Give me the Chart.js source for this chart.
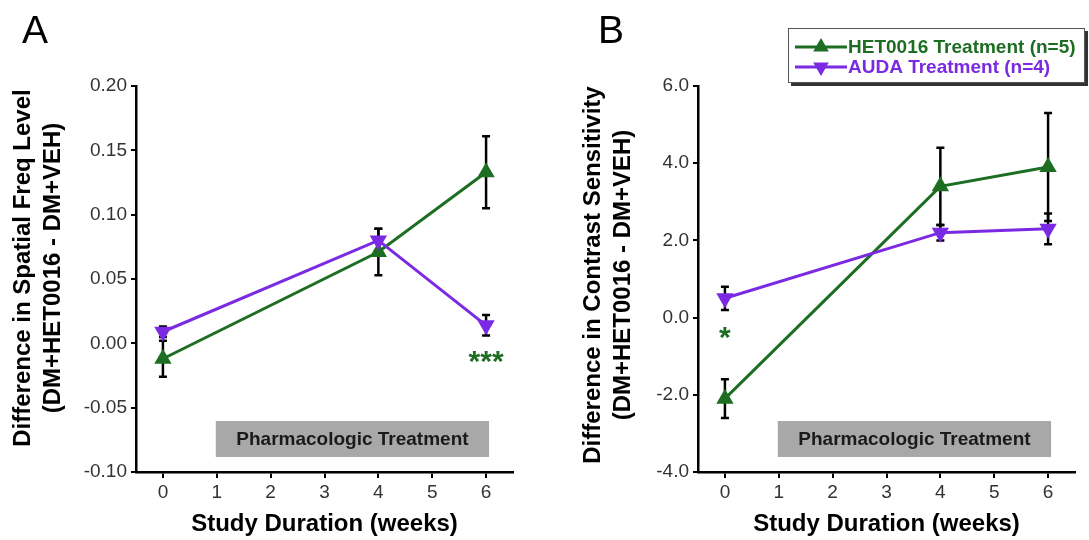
<!DOCTYPE html>
<html>
<head>
<meta charset="utf-8">
<script src="https://cdn.jsdelivr.net/npm/chart.js@4.4.0/dist/chart.umd.min.js"></script>
<style>
  body { margin: 0; background: #fff; }
  #wrap { position: relative; width: 1089px; height: 540px; }
  .panel { position: absolute; top: 0; height: 540px; }
  #panelA { left: 0; width: 545px; }
  #panelB { left: 545px; width: 544px; }
</style>
</head>
<body>
<div id="wrap">
  <div class="panel" id="panelA"><canvas id="chartA"></canvas></div>
  <div class="panel" id="panelB"><canvas id="chartB"></canvas></div>
</div>
<script>
// data
const weeks = [0, 4, 6];
const weekTicks = [0, 1, 2, 3, 4, 5, 6];
const seriesNames = ['HET0016 Treatment (n=5)', 'AUDA Treatment (n=4)'];

const hetSpatial = [-0.012, 0.071, 0.133];
const hetSpatialErr = [0.014, 0.018, 0.028];
const audaSpatial = [0.009, 0.080, 0.014];
const audaSpatialErr = [0.004, 0.009, 0.008];
const spatialTicks = [-0.10, -0.05, 0.00, 0.05, 0.10, 0.15, 0.20];

const hetContrast = [-2.1, 3.4, 3.9];
const hetContrastErr = [0.5, 1.0, 1.4];
const audaContrast = [0.5, 2.2, 2.3];
const audaContrastErr = [0.3, 0.2, 0.4];
const contrastTicks = [-4, -2, 0, 2, 4, 6];

const treatmentWeeks = [1, 6];

const green = '#1d6e22';
const purple = '#7a2ae2';
const fontFam = "'Liberation Sans', Arial, sans-serif";

const toPoints = (vals) => weeks.map((w, i) => ({x: w, y: vals[i]}));

function decorations(o) {
  return {
    id: 'decor' + o.letter,
    beforeDatasetsDraw(chart) {
      const ctx = chart.ctx;
      const xs = chart.scales.x, ys = chart.scales.y;
      const area = chart.chartArea;
      // treatment bar
      const bx1 = xs.getPixelForValue(treatmentWeeks[0]) - 1;
      const bx2 = xs.getPixelForValue(treatmentWeeks[1]) + 3;
      const bBottom = area.bottom - 15;
      ctx.save();
      ctx.fillStyle = '#a8a8a8';
      ctx.fillRect(bx1, bBottom - 36, bx2 - bx1, 36);
      ctx.fillStyle = '#1a1a1a';
      ctx.font = 'bold 19px ' + fontFam;
      ctx.textAlign = 'center';
      ctx.textBaseline = 'middle';
      ctx.fillText('Pharmacologic Treatment', (bx1 + bx2) / 2, bBottom - 17);
      // error bars
      ctx.strokeStyle = '#000';
      ctx.lineWidth = 2.5;
      o.errs.forEach((err, d) => {
        const vals = chart.data.datasets[d].data;
        vals.forEach((p, j) => {
          const x = xs.getPixelForValue(p.x);
          const yt = ys.getPixelForValue(p.y + err[j]);
          const yb = ys.getPixelForValue(p.y - err[j]);
          ctx.beginPath();
          ctx.moveTo(x, yt); ctx.lineTo(x, yb);
          ctx.moveTo(x - 4, yt); ctx.lineTo(x + 4, yt);
          ctx.moveTo(x - 4, yb); ctx.lineTo(x + 4, yb);
          ctx.stroke();
        });
      });
      ctx.restore();
    },
    afterDraw(chart) {
      const ctx = chart.ctx;
      const xs = chart.scales.x, ys = chart.scales.y;
      ctx.save();
      // panel letter
      ctx.fillStyle = '#000';
      ctx.font = '39px ' + fontFam;
      ctx.textBaseline = 'alphabetic';
      ctx.textAlign = 'left';
      ctx.fillText(o.letter, o.letterX, 43);
      // y title, two lines
      ctx.font = 'bold 24px ' + fontFam;
      ctx.textAlign = 'center';
      ctx.textBaseline = 'middle';
      o.yTitle.forEach((line, k) => {
        ctx.save();
        ctx.translate(o.yTitleX + k * 30, o.yTitleY);
        ctx.rotate(-Math.PI / 2);
        ctx.fillText(line, 0, 0);
        ctx.restore();
      });
      // significance stars
      ctx.fillStyle = green;
      ctx.font = 'bold 30px ' + fontFam;
      ctx.fillText(o.star.text, xs.getPixelForValue(o.star.x), ys.getPixelForValue(o.star.y) + 8);
      // legend
      if (o.legend) {
        const L = o.legend;
        ctx.fillStyle = '#333';
        ctx.fillRect(L.x + 3, L.y + 3, L.w, L.h);
        ctx.fillStyle = '#fff';
        ctx.fillRect(L.x, L.y, L.w, L.h);
        ctx.strokeStyle = '#555';
        ctx.lineWidth = 1;
        ctx.strokeRect(L.x + 0.5, L.y + 0.5, L.w - 1, L.h - 1);
        chart.data.datasets.forEach((ds, d) => {
          const yy = L.y + 19 + d * 20;
          ctx.strokeStyle = ds.borderColor;
          ctx.lineWidth = 3;
          ctx.beginPath();
          ctx.moveTo(L.x + 7, yy); ctx.lineTo(L.x + 59, yy);
          ctx.stroke();
          ctx.fillStyle = ds.borderColor;
          Chart.helpers.drawPoint(ctx, {pointStyle: 'triangle', radius: 6, rotation: ds.pointRotation, borderWidth: 1}, L.x + 33, yy);
          ctx.font = 'bold 19px ' + fontFam;
          ctx.textAlign = 'left';
          ctx.fillText(ds.label, L.x + 60, yy + 1);
        });
      }
      ctx.restore();
    }
  };
}

function makeChart(id, o) {
  return new Chart(document.getElementById(id), {
    type: 'line',
    data: {
      datasets: [
        {
          label: seriesNames[0],
          data: toPoints(o.het),
          borderColor: green, backgroundColor: green,
          borderWidth: 3, pointStyle: 'triangle', pointRadius: 7, pointRotation: 0,
          order: 1
        },
        {
          label: seriesNames[1],
          data: toPoints(o.auda),
          borderColor: purple, backgroundColor: purple,
          borderWidth: 3, pointStyle: 'triangle', pointRadius: 7, pointRotation: 180,
          order: 0
        }
      ]
    },
    options: {
      responsive: true,
      maintainAspectRatio: false,
      animation: false,
      layout: { padding: { left: 0, top: 86, right: o.padRight, bottom: 0 } },
      plugins: { legend: { display: false }, tooltip: { enabled: false } },
      scales: {
        x: {
          type: 'linear', min: -0.5, max: 6.5,
          afterBuildTicks: (s) => { s.ticks = weekTicks.map(v => ({value: v})); },
          afterFit: (s) => { s.height = 68; },
          ticks: { color: '#333', font: { family: fontFam, size: 19 }, padding: 3 },
          grid: { drawOnChartArea: false, color: '#000', lineWidth: 2, tickLength: 6 },
          border: { color: '#000', width: 2.5 },
          title: {
            display: true, text: 'Study Duration (weeks)', color: '#000',
            font: { family: fontFam, size: 24, weight: 'bold' },
            padding: { top: 0, bottom: 1 }
          }
        },
        y: {
          type: 'linear', min: o.yTicks[0], max: o.yTicks[o.yTicks.length - 1],
          afterBuildTicks: (s) => { s.ticks = o.yTicks.map(v => ({value: v})); },
          afterFit: (s) => { s.width = o.yWidth; },
          ticks: { color: '#333', font: { family: fontFam, size: 19 }, padding: 4,
                   callback: (v) => v.toFixed(o.decimals) },
          grid: { drawOnChartArea: false, color: '#000', lineWidth: 2, tickLength: 5 },
          border: { color: '#000', width: 2.5 }
        }
      }
    },
    plugins: [decorations(o)]
  });
}

makeChart('chartA', {
  letter: 'A', letterX: 22,
  het: hetSpatial, auda: audaSpatial, errs: [hetSpatialErr, audaSpatialErr],
  yTicks: spatialTicks, decimals: 2, yWidth: 136, padRight: 32,
  yTitle: ['Difference in Spatial Freq Level', '(DM+HET0016 - DM+VEH)'],
  yTitleX: 23, yTitleY: 268,
  star: { text: '***', x: 6, y: -0.009 }
});

makeChart('chartB', {
  letter: 'B', letterX: 53,
  het: hetContrast, auda: audaContrast, errs: [hetContrastErr, audaContrastErr],
  yTicks: contrastTicks, decimals: 1, yWidth: 153, padRight: 14,
  yTitle: ['Difference in Contrast Sensitivity', '(DM+HET0016 - DM+VEH)'],
  yTitleX: 48, yTitleY: 275,
  star: { text: '*', x: 0, y: -0.35 },
  legend: { x: 243, y: 28, w: 297, h: 55 }
});
</script>
</body>
</html>
